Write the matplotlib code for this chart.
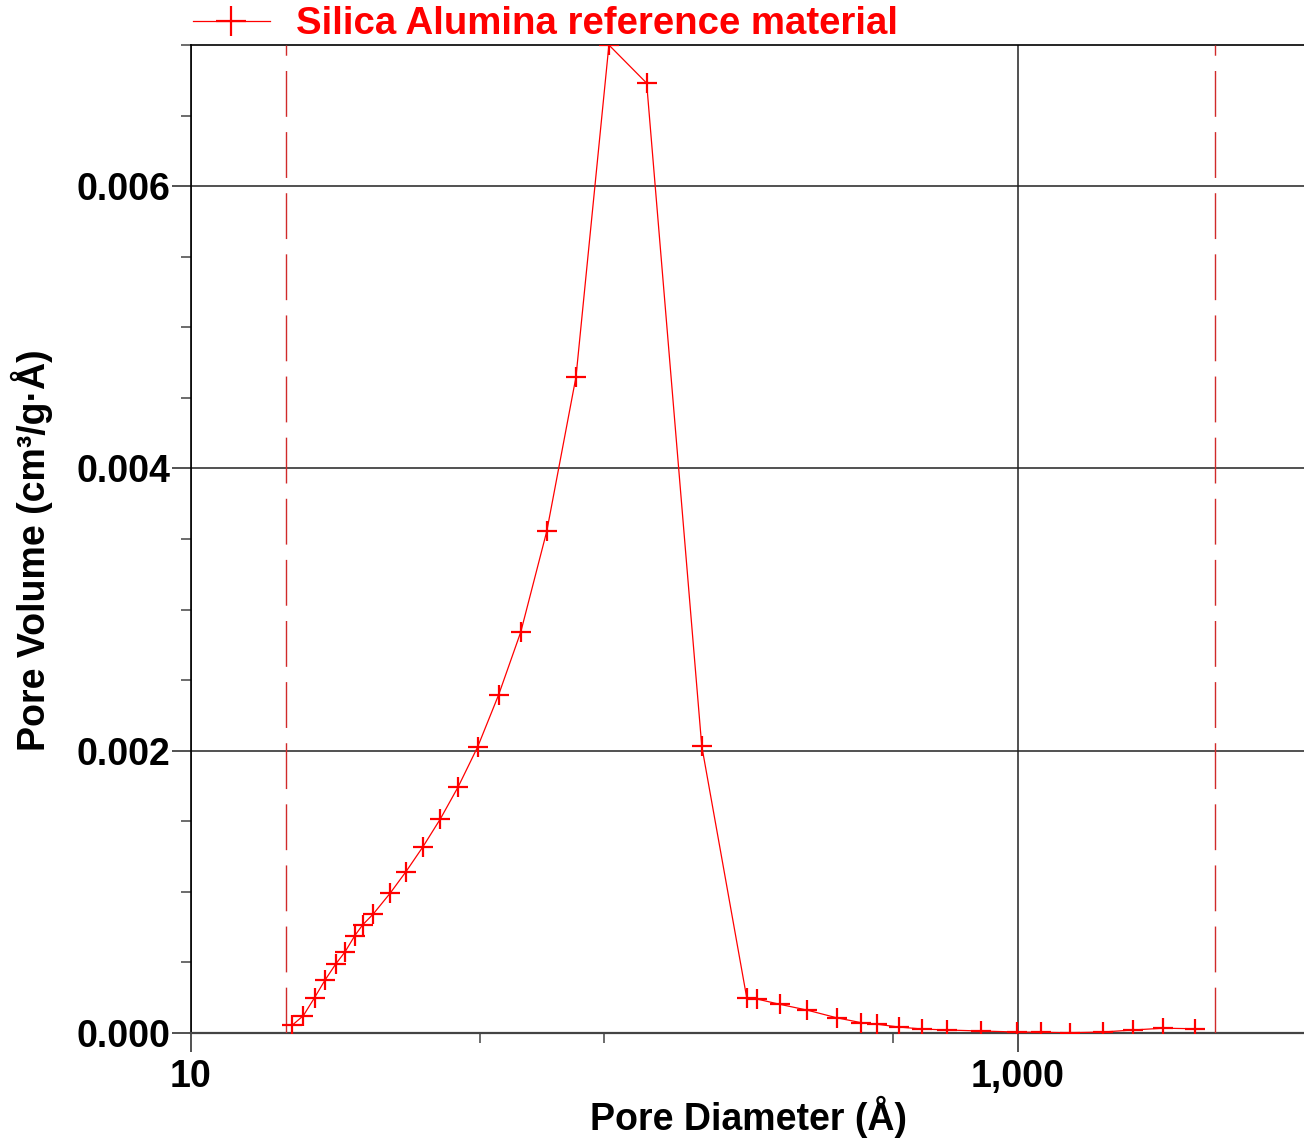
import numpy as np
import matplotlib
matplotlib.use("Agg")
import matplotlib.pyplot as plt
from matplotlib.ticker import FixedLocator, MultipleLocator, FuncFormatter, NullFormatter

plt.rcParams['font.family'] = ['Liberation Sans', 'DejaVu Sans']
plt.rcParams['font.weight'] = 'bold'

# pore size distribution (diameter in Å, volume in cm3/g·Å)
diameter = [17.6, 18.7, 19.9, 21.1, 22.4, 23.6, 24.9, 26.0, 27.6, 30.3,
            33.1, 36.4, 40.1, 44.3, 49.4, 55.5, 62.8, 72.6, 85.4, 102.6,
            126.6, 172.1, 221.1, 233.8, 266.1, 308.7, 364.9, 418.5, 456.9, 515.3,
            587.0, 675.2, 814.7, 994.9, 1139.6, 1339.7, 1608.5, 1897, 2253, 2693]
volume = [0.0000567, 0.000123, 0.000250, 0.000375, 0.000489, 0.000576, 0.000689, 0.000765, 0.000843, 0.000989,
          0.001142, 0.001319, 0.001516, 0.001744, 0.002028, 0.002396, 0.002842, 0.003557, 0.004648, 0.0079,
          0.006730, 0.002033, 0.000250, 0.000241, 0.000203, 0.000163, 0.000108, 0.000073, 0.000062, 0.0000425,
          0.0000283, 0.0000212, 0.0000142, 0.000007, 0.000005, 0.000002, 0.000007, 0.0000212, 0.000034, 0.000030]
range_limits = [17, 3000]
series_name = "Silica Alumina reference material"

x_lim = (10, 5000)
y_lim = (0, 0.007)
x_major = [10, 1000]
x_minor = [50, 100, 500, 5000]

fig = plt.figure(figsize=(13.04, 11.38), dpi=100)
ax = fig.add_axes([191 / 1304, 1 - 1033 / 1138, 1115.5 / 1304, 988 / 1138])

# values above the axis top are pinned to the edge, as in the original software
shown = np.minimum(np.array(volume), y_lim[1])
ax.plot(diameter, shown, color='red', lw=0.9, marker='+', markersize=14,
        markeredgewidth=1.6, label=series_name, zorder=5)

for d in range_limits:
    ax.axvline(d, color='#d02a2a', lw=1.0, linestyle=(0, (33, 11)), zorder=3)

ax.set_xscale('log')
ax.set_xlim(*x_lim)
ax.set_ylim(*y_lim)

ax.xaxis.set_major_locator(FixedLocator(x_major))
ax.xaxis.set_minor_locator(FixedLocator(x_minor))
ax.xaxis.set_major_formatter(FuncFormatter(lambda v, p: f"{v:,.0f}"))
ax.xaxis.set_minor_formatter(NullFormatter())
ax.yaxis.set_major_locator(MultipleLocator(0.002))
ax.yaxis.set_minor_locator(MultipleLocator(0.0005))
ax.yaxis.set_major_formatter(FuncFormatter(lambda v, p: f"{v:.3f}"))

ax.grid(True, which='major', color='#222222', lw=1.1)
ax.set_axisbelow(True)

ax.tick_params(which='major', direction='out', length=14, width=1.1, labelsize=27, color='#222222')
ax.tick_params(which='minor', direction='out', length=7, width=1.1, color='#444444')
ax.tick_params(axis='y', which='major', pad=1)
ax.tick_params(axis='x', which='major', pad=5)

for side in ['top', 'left']:
    ax.spines[side].set_color('black')
    ax.spines[side].set_linewidth(1.2)
ax.spines['bottom'].set_color('#444444')
ax.spines['bottom'].set_linewidth(1.6)
ax.spines['right'].set_visible(False)

ax.set_xlabel("Pore Diameter (Å)", fontsize=27, fontweight='bold', labelpad=0)
ax.set_ylabel("Pore Volume (cm³/g·Å)", fontsize=27, fontweight='bold')
ax.yaxis.set_label_coords(-0.124, 0.489)

ax.legend(loc='center left', bbox_to_anchor=(193 / 1304, 1 - 24 / 1138),
          bbox_transform=fig.transFigure, frameon=False, borderpad=0,
          borderaxespad=0, handlelength=2.0, handletextpad=0.7, markerscale=1.5,
          prop={'size': 27.6, 'weight': 'bold'}, labelcolor='red')

plt.savefig("out.png", dpi=100)
